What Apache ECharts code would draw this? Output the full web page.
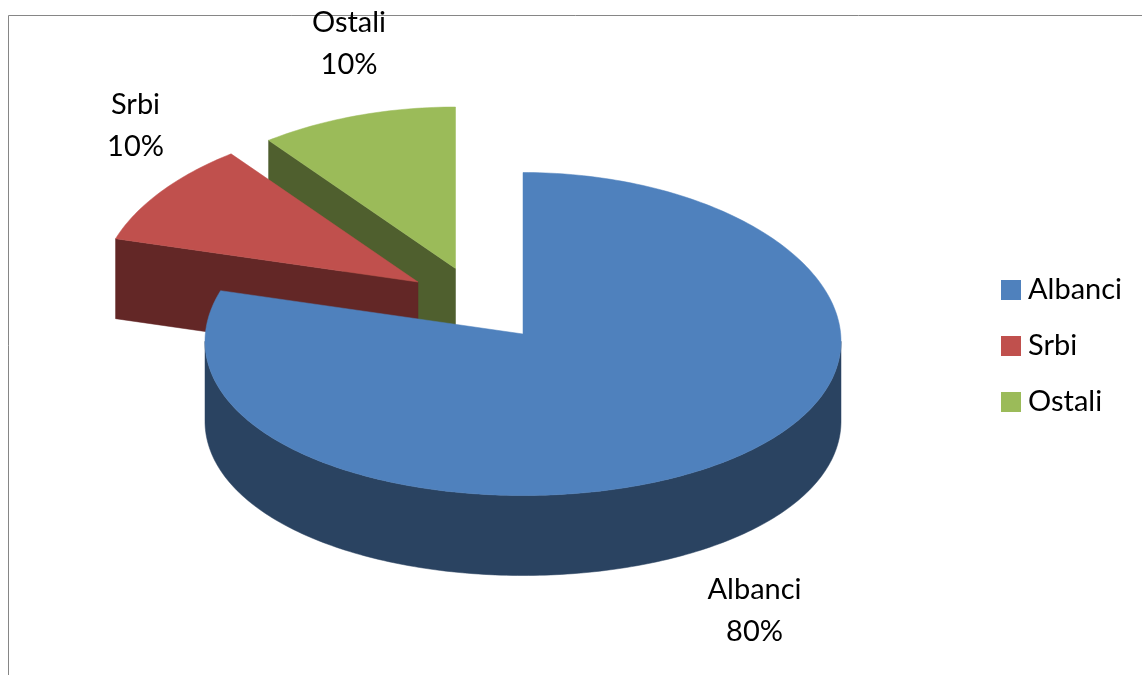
<!DOCTYPE html>
<html>
<head>
<meta charset="utf-8">
<style>html,body{margin:0;padding:0;background:#fff}#c{width:1142px;height:675px}</style>
<script src="https://cdn.jsdelivr.net/npm/echarts@6/dist/echarts.min.js"></script>
</head>
<body>
<div id="c"></div>
<script>
// Data
const categories = ['Albanci', 'Srbi', 'Ostali'];
const shares = [80, 10, 10];
const shareLabels = ['80%', '10%', '10%'];

// Styles and layout
const topColors = ['#4F81BD', '#C0504D', '#9BBB59'];
const wallColors = ['#2A4361', '#632726', '#4F5F2E'];
const apexes = [[523, 334], [418, 282], [455.5, 268.5]];
const labelCentres = [[754.5, 611], [135.5, 126], [349, 44]];
const RX = 318, RY = 161.5, DEPTH = 80, PERSP = 0.045;
const FONT = 'Lato, Carlito, "Open Sans", sans-serif';
const FONT_SIZE = 29;

const total = shares.reduce((a, b) => a + b, 0);
const deg = d => d * Math.PI / 180;

function rim(apex, th) {
  const s = Math.sin(th), c = Math.cos(th);
  return [apex[0] + RX * s, apex[1] - RY * (c - PERSP * s * s)];
}
function arc(apex, from, to) {
  const pts = [], n = Math.max(2, Math.ceil(Math.abs(to - from) / deg(1)));
  for (let i = 0; i <= n; i++) pts.push(rim(apex, from + (to - from) * i / n));
  return pts;
}
const drop = p => [p[0], p[1] + DEPTH];

function renderSlice(idx) {
  return function (params, api) {
    const value = api.value(0);
    let before = 0;
    for (let i = 0; i < idx; i++) before += shares[i];
    const a = before / total * 2 * Math.PI;
    const b = a + value / total * 2 * Math.PI;
    const apex = apexes[idx];
    const children = [];
    const poly = (points, fill, z2) => children.push({
      type: 'polygon', z2,
      shape: { points },
      style: { fill, stroke: fill, lineWidth: 0.5 }
    });
    // Cut face seen from the front (start edge of a slice)
    if (Math.sin(a) < -1e-6) {
      const p = rim(apex, a);
      poly([apex, p, drop(p), drop(apex)], wallColors[idx], 1);
    }
    // Cut face at the end edge
    if (Math.sin(b) > 1e-6) {
      const p = rim(apex, b);
      poly([apex, p, drop(p), drop(apex)], wallColors[idx], 1);
    }
    // Outer wall: front half of the rim only
    const wFrom = Math.max(a, Math.PI / 2), wTo = Math.min(b, 1.5 * Math.PI);
    if (wTo > wFrom) {
      const top = arc(apex, wFrom, wTo);
      poly(top.concat(top.map(drop).reverse()), wallColors[idx], 2);
    }
    // Top surface
    poly([apex].concat(arc(apex, a, b)), topColors[idx], 3);
    // Data label
    children.push({
      type: 'text', z2: 10,
      style: {
        x: labelCentres[idx][0], y: labelCentres[idx][1],
        text: categories[idx] + '\n' + shareLabels[idx],
        align: 'center', verticalAlign: 'middle',
        font: FONT_SIZE + 'px ' + FONT, lineHeight: 42, fill: '#000'
      }
    });
    return { type: 'group', children };
  };
}

// Drawn back to front
const order = [2, 1, 0];
const series = order.map((i, k) => ({
  type: 'custom',
  name: categories[i],
  coordinateSystem: 'none',
  renderItem: renderSlice(i),
  data: [[shares[i]]],
  itemStyle: { color: topColors[i] },
  z: 2 + k,
  silent: true,
  clip: false
}));

const chart = echarts.init(document.getElementById('c'), null, { renderer: 'canvas' });
chart.setOption({
  animation: false,
  backgroundColor: '#fff',
  tooltip: { show: false },
  legend: {
    orient: 'vertical',
    left: 1001, top: 274,
    data: categories,
    icon: 'rect',
    itemWidth: 20, itemHeight: 20,
    itemGap: 24,
    selectedMode: false,
    padding: 0,
    textStyle: { fontFamily: FONT, fontSize: FONT_SIZE, color: '#000', padding: [2, 0, 0, 2], lineHeight: 30 }
  },
  graphic: [
    { type: 'line', z: 0, silent: true, shape: { x1: 8.5, y1: 15.5, x2: 1142, y2: 15.5 }, style: { stroke: '#868686', lineWidth: 1 } },
    { type: 'line', z: 0, silent: true, shape: { x1: 8.5, y1: 15.5, x2: 8.5, y2: 675 }, style: { stroke: '#868686', lineWidth: 1 } }
  ],
  series
});
</script>
</body>
</html>
